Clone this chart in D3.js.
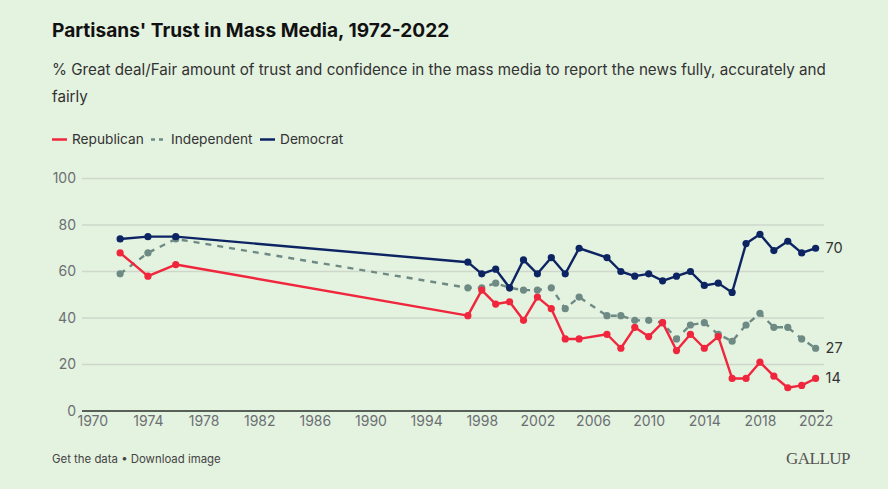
<!DOCTYPE html>
<html><head><meta charset="utf-8">
<script src="https://cdn.jsdelivr.net/npm/d3@7"></script>
<style>
html,body{margin:0;padding:0;background:#e4f2e0;}
svg{display:block;font-family:Inter,"Noto Sans",sans-serif;}
</style></head>
<body>
<svg id="c" width="888" height="489"></svg>
<script>
const years = [1972,1974,1976,1997,1998,1999,2000,2001,2002,2003,2004,2005,2007,2008,2009,2010,2011,2012,2013,2014,2015,2016,2017,2018,2019,2020,2021,2022];
const republican = [68,58,63,41,52,46,47,39,49,44,31,31,33,27,36,32,38,26,33,27,32,14,14,21,15,10,11,14];
const independent = [59,68,74,53,53,55,53,52,52,53,44,49,41,41,39,39,38,31,37,38,33,30,37,42,36,36,31,27];
const democrat = [74,75,75,64,59,61,53,65,59,66,59,70,66,60,58,59,56,58,60,54,55,51,72,76,69,73,68,70];
const xTicks = [1970,1974,1978,1982,1986,1990,1994,1998,2002,2006,2010,2014,2018,2022];
const yTicks = [0,20,40,60,80,100];
const seriesNames = ["Republican","Independent","Democrat"];
const seriesColors = ["#f0263d","#6e8a84","#0d2463"];

const svg = d3.select("#c");
svg.append("rect").attr("width",888).attr("height",489).attr("fill","#e4f2e0");

svg.append("text").attr("x",52).attr("y",37).attr("font-size",19.1).attr("font-weight",700)
  .attr("fill","#111").text("Partisans' Trust in Mass Media, 1972-2022");
svg.append("text").attr("x",52).attr("y",75).attr("font-size",15.2).attr("fill","#333")
  .text("% Great deal/Fair amount of trust and confidence in the mass media to report the news fully, accurately and");
svg.append("text").attr("x",52).attr("y",102).attr("font-size",15.2).attr("fill","#333").text("fairly");

// legend
const legend = [
  {name:seriesNames[0], color:seriesColors[0], dash:null, x:52, tx:72},
  {name:seriesNames[1], color:seriesColors[1], dash:"4,4", x:151, tx:171},
  {name:seriesNames[2], color:seriesColors[2], dash:null, x:260, tx:280}
];
legend.forEach(l=>{
  svg.append("line").attr("x1",l.x).attr("x2",l.x+15).attr("y1",139.5).attr("y2",139.5)
    .attr("stroke",l.color).attr("stroke-width",2.5).attr("stroke-dasharray",l.dash);
  svg.append("text").attr("x",l.tx).attr("y",144).attr("font-size",13.7).attr("fill","#333").text(l.name);
});

const x = d3.scaleLinear().domain([1970,2022]).range([92.3,815.6]);
const y = d3.scaleLinear().domain([0,100]).range([411,178.5]);
const plotLeft = 82, plotRight = 824;

// gridlines
svg.append("g").selectAll("line").data(yTicks.filter(d=>d>0)).join("line")
  .attr("x1",plotLeft).attr("x2",plotRight).attr("y1",d=>y(d)).attr("y2",d=>y(d))
  .attr("stroke","#cdd8cb").attr("stroke-width",1.3);
svg.append("line").attr("x1",plotLeft).attr("x2",plotRight).attr("y1",y(0)).attr("y2",y(0))
  .attr("stroke","#2b2f2b").attr("stroke-width",1.5);

// y labels
const yAxis = d3.axisLeft(y).tickValues(yTicks).tickSize(0).tickPadding(0);
const gy = svg.append("g").attr("transform",`translate(76,0)`).call(yAxis);
gy.select(".domain").remove();
gy.selectAll("text").attr("font-size",14).attr("fill","#6b6f73").attr("font-family","Inter,'Noto Sans',sans-serif");

// x labels
const xAxis = d3.axisBottom(x).tickValues(xTicks).tickFormat(d3.format("d")).tickSize(0).tickPadding(0);
const gx = svg.append("g").attr("transform",`translate(0,${y(0)+5})`).call(xAxis);
gx.select(".domain").remove();
gx.selectAll("text").attr("font-size",14).attr("fill","#6b6f73").attr("font-family","Inter,'Noto Sans',sans-serif");

const data = [republican, independent, democrat];
const line = d3.line().x((d,i)=>x(years[i])).y(d=>y(d));
[1,0,2].forEach(si=>{
  const vals = data[si];
  svg.append("path").datum(vals).attr("d",line).attr("fill","none")
    .attr("stroke",seriesColors[si]).attr("stroke-width",2.4)
    .attr("stroke-linejoin","round")
    .attr("stroke-dasharray", si===1 ? "6,6" : null);
  svg.append("g").selectAll("circle").data(vals).join("circle")
    .attr("cx",(d,i)=>x(years[i])).attr("cy",d=>y(d)).attr("r",3.6)
    .attr("fill",seriesColors[si]);
  const last = vals[vals.length-1];
  svg.append("text").attr("x",x(years[years.length-1])+10).attr("y",y(last)+5)
    .attr("font-size",14.5).attr("fill","#333").text(last);
});

svg.append("text").attr("x",52).attr("y",463).attr("font-size",11.4).attr("fill","#444").text("Get the data • Download image");
svg.append("text").attr("x",850).attr("y",464).attr("text-anchor","end").attr("font-size",17)
  .attr("font-family","'Liberation Serif','DejaVu Serif',serif").attr("fill","#555").attr("letter-spacing",-0.5).text("GALLUP");
</script>
</body></html>
